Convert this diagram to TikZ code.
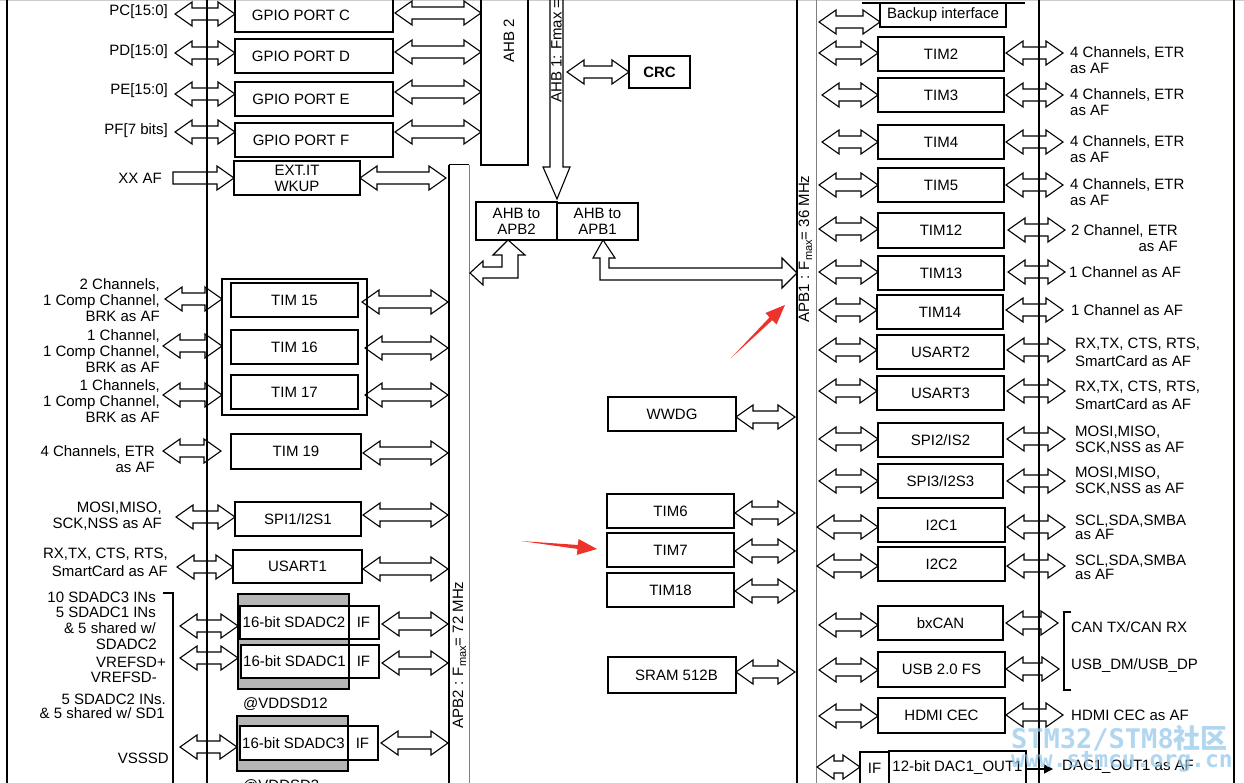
\documentclass[tikz,border=0pt]{standalone}
\usepackage{fontspec}
\setmainfont{Liberation Sans}
\newfontfamily\cjkfont{Noto Sans CJK SC}
\newfontfamily\wmfont{DejaVu Sans Mono}
\usetikzlibrary{arrows.meta,calc}
\definecolor{sdgray}{RGB}{182,182,182}
\definecolor{annred}{RGB}{238,50,44}
\definecolor{wmblue}{RGB}{150,200,235}
\newcommand{\arrH}{17pt}
\newcommand{\arrW}{12pt}
\newcommand{\arrS}{6pt}
% double hollow arrow: x from #1 and #2, y (pixels) = #3
\newcommand{\dar}[3]{\draw[barrow] let \p1=#1, \p2=#2, \p3=(0,#3) in
 (\x1,\y3) -- (\x1+\arrH,\y3+\arrW) -- (\x1+\arrH,\y3+\arrS) -- (\x2-\arrH,\y3+\arrS) -- (\x2-\arrH,\y3+\arrW) -- (\x2,\y3)
 -- (\x2-\arrH,\y3-\arrW) -- (\x2-\arrH,\y3-\arrS) -- (\x1+\arrH,\y3-\arrS) -- (\x1+\arrH,\y3-\arrW) -- cycle;}
% single hollow arrow
\newcommand{\sar}[3]{\draw[barrow] let \p1=#1, \p2=#2, \p3=(0,#3) in
 (\x1,\y3+\arrS) -- (\x2-\arrH,\y3+\arrS) -- (\x2-\arrH,\y3+\arrW) -- (\x2,\y3)
 -- (\x2-\arrH,\y3-\arrW) -- (\x2-\arrH,\y3-\arrS) -- (\x1,\y3-\arrS) -- cycle;}
% box from corners
\newcommand{\bx}[7][]{\node[box,minimum width={#5-#3},minimum height={#6-#4},#1] (#2) at ({(#3+#5)/2},{(#4+#6)/2}) {#7};}
\newcommand{\padR}[1]{\rule{#1}{0pt}}
\begin{document}
\begin{tikzpicture}[x=1pt,y=-1pt,font=\fontsize{15}{16}\selectfont,
  box/.style={draw,line width=1.6pt,inner sep=0pt,outer sep=0pt},
  barrow/.style={draw,line width=1.1pt,line join=miter},
  lbl/.style={inner sep=0pt,align=right,anchor=east},
  rlbl/.style={inner sep=0pt,align=left,anchor=west},
  busline/.style={line width=1.8pt},
  sdbox/.style={fill=sdgray,line width=2.4pt},
  sdwhite/.style={fill=white,line width=1.5pt}]
\useasboundingbox (0,0) rectangle (1244,783);
\clip (0,0) rectangle (1244,783);

% ---------- bus coordinates ----------
\coordinate (lbus) at (207,0);
\coordinate (apb2L) at (448,165);
\coordinate (apb2R) at (469,165);
\coordinate (apb1L) at (795,0);
\coordinate (apb1R) at (819,0);
\coordinate (afR) at (1063,0);
\coordinate (ahb1R) at (567,0);
\coordinate (sdL) at (180,0);

% ---------- frame and buses ----------
\draw[gray!40,line width=1pt] (0,0.5) -- (1244,0.5);
\draw[busline] (7,-5) -- (7,790);
\draw[busline] (1234,-5) -- (1234,790);
\draw[busline] (207,-5) -- (207,790);
\draw[busline] (449,165) -- (449,790);
\draw[gray,line width=1pt] (469,165) -- (469,790);
\draw[line width=1pt] (449,165) -- (469,165);
\draw[busline] (797,-5) -- (797,790);
\draw[gray,line width=1pt] (816,-5) -- (816,790);
\draw[busline] (1039,-5) -- (1039,790);

% ---------- GPIO ----------
\bx{gpC}{235}{-2}{393}{32}{GPIO PORT C\padR{26pt}}
\bx{gpD}{235}{39}{393}{73}{GPIO PORT D\padR{26pt}}
\bx{gpE}{235}{82}{393}{116}{GPIO PORT E\padR{26pt}}
\bx{gpF}{235}{123}{393}{157}{GPIO PORT F\padR{26pt}}
\bx[align=center]{ext}{234}{161}{360}{195}{EXT.IT\\WKUP}
\node[lbl] (lC) at (168,12) {PC[15:0]};
\node[lbl] (lD) at (168,52) {PD[15:0]};
\node[lbl] (lE) at (168,91) {PE[15:0]};
\node[lbl] (lF) at (168,131) {PF[7 bits]};
\node[lbl] (lX) at (162,178) {XX AF};
\dar{([xshift=7pt]lC.east)}{(gpC.west)}{14}
\dar{([xshift=7pt]lD.east)}{(gpD.west)}{53}
\dar{([xshift=7pt]lE.east)}{(gpE.west)}{94}
\dar{([xshift=7pt]lF.east)}{(gpF.west)}{132}
\sar{([xshift=11pt]lX.east)}{(ext.west)}{178}

% ---------- AHB2 ----------
\bx{ahb2}{481}{-5}{528}{165}{}
\node[rotate=90,inner sep=0pt] (ahb2t) at (509,41) {AHB 2};
\dar{([xshift=2pt]gpC.east)}{(ahb2.west)}{13}
\dar{([xshift=2pt]gpD.east)}{(ahb2.west)}{52}
\dar{([xshift=2pt]gpE.east)}{(ahb2.west)}{92}
\dar{([xshift=2pt]gpF.east)}{(ahb2.west)}{132}
\dar{(ext.east)}{([xshift=-2pt]apb2L)}{178}

% ---------- AHB1, CRC, bridges ----------
\bx[align=center]{a2p2}{476}{202}{557}{240}{AHB to\\APB2}
\bx[align=center]{a2p1}{557}{203}{638}{240}{AHB to\\APB1}
\draw[barrow] (550,-8) -- (550,167) -- (543,167) -- ([yshift=3pt]a2p2.north east) -- (570,167) -- (563,167) -- (563,-8);
\node[rotate=90,anchor=west,inner sep=0pt] (ahb1t) at (556.5,103) {AHB 1: Fmax =};
\bx[font=\fontsize{15}{16}\selectfont\bfseries]{crc}{629}{56}{690}{88}{CRC}
\dar{(ahb1R)}{(crc.west)}{72}
\draw[barrow] ([xshift=-8.5pt]a2p2.south) -- ++(17,15) -- ++(-7,0) -- ++(0,23) -- ++(-35,0) -- ++(0,7)
  -- ++(-13,-12) -- ++(13,-12) -- ++(0,6) -- ++(19,0) -- ++(0,-12) -- ++(-9,0) -- cycle;
\draw[barrow] ([xshift=5.5pt]a2p1.south) -- ++(12,18) -- ++(-6,0) -- ++(0,10) -- ++(173,0) -- ++(0,-10)
  -- ++(15,15) -- ++(-15,15) -- ++(0,-8) -- ++(-182,0) -- ++(0,-22) -- ++(-7,0) -- cycle;

% ---------- APB2 peripherals ----------
\bx{timgrp}{222}{279}{367}{415}{}
\bx{t15}{231}{283}{358}{317}{TIM 15}
\bx{t16}{231}{330}{358}{364}{TIM 16}
\bx{t17}{231}{375}{358}{409}{TIM 17}
\bx{t19}{231}{434}{361}{469}{TIM 19}
\bx{spi1}{235}{502}{361}{536}{SPI1/I2S1}
\bx{usart1}{233}{550}{362}{583}{USART1}
\node[lbl] (l15) at (160,300) {2 Channels,\\1 Comp Channel,\\BRK as AF};
\node[lbl] (l16) at (160,351) {1 Channel,\\1 Comp Channel,\\BRK as AF};
\node[lbl] (l17) at (160,401) {1 Channels,\\1 Comp Channel,\\BRK as AF};
\node[lbl] (l19) at (155,459) {4 Channels, ETR\\as AF};
\node[lbl] (lspi1) at (162,516) {MOSI,MISO,\\SCK,NSS as AF};
\node[lbl,font=\fontsize{15}{18}\selectfont] (lus1) at (168,562) {RX,TX, CTS, RTS,\\SmartCard as AF};
\dar{([xshift=5pt]l15.east)}{(timgrp.west)}{299}
\dar{([xshift=3pt]l16.east)}{(timgrp.west)}{346}
\dar{([xshift=3pt]l17.east)}{(timgrp.west)}{395}
\dar{([xshift=8pt]l19.east)}{([xshift=-10pt]t19.west)}{451}
\dar{([xshift=14pt]lspi1.east)}{(spi1.west)}{517}
\dar{([xshift=9pt]lus1.east)}{(usart1.west)}{567}
\dar{([xshift=4pt]t15.east)}{(apb2L)}{302}
\dar{([xshift=7pt]t16.east)}{(apb2L)}{348}
\dar{([xshift=7pt]t17.east)}{(apb2L)}{395}
\dar{([xshift=2pt]t19.east)}{(apb2L)}{453}
\dar{([xshift=2pt]spi1.east)}{(apb2L)}{515}
\dar{([xshift=1pt]usart1.east)}{(apb2L)}{569}

% ---------- SDADC ----------
\bx[sdbox]{g12}{238}{594}{349}{689}{}
\bx[sdwhite]{sd2}{240}{606}{379}{639}{\makebox[108pt]{16-bit SDADC2}\makebox[31pt]{IF}}
\bx[sdwhite]{sd1}{241}{645}{379}{678}{\makebox[107pt]{16-bit SDADC1}\makebox[31pt]{IF}}
\draw[line width=2.4pt] (g12.north west) rectangle (g12.south east);
\node[anchor=west,inner sep=0pt] (vdd12) at (243,704) {@VDDSD12};
\bx[sdbox]{g3}{237}{716}{348}{771}{}
\bx[sdwhite]{sd3}{240}{726}{378}{760}{\makebox[107pt]{16-bit SDADC3}\makebox[31pt]{IF}}
\draw[line width=2.4pt] (g3.north west) rectangle (g3.south east);
\node[anchor=west,inner sep=0pt] (vdd3) at (243,786) {@VDDSD3};
\node[lbl] (s1) at (156,597) {10 SDADC3 INs};
\node[lbl] (s2) at (156,612) {5 SDADC1 INs};
\node[lbl] (s3) at (156,628) {\& 5 shared w/};
\node[lbl] (s4) at (157,644) {SDADC2};
\node[lbl] (s5) at (166,662) {VREFSD+};
\node[lbl] (s6) at (157,677) {VREFSD-};
\node[lbl] (s7) at (166,699) {5 SDADC2 INs.};
\node[lbl] (s8) at (165,713) {\& 5 shared w/ SD1};
\node[lbl] (s9) at (169,758) {VSSSD};
\draw[line width=1.5pt] (163,593) -- (173,593) -- (173,790);
\dar{(sdL)}{(g12.west)}{626}
\dar{(sdL)}{(g12.west)}{658}
\dar{(sdL)}{(g3.west)}{747}
\dar{([xshift=3pt]sd2.east)}{(apb2L)}{624}
\dar{([xshift=3pt]sd1.east)}{(apb2L)}{663}
\dar{([xshift=3pt]sd3.east)}{(apb2L)}{743}

% ---------- APB2 label ----------
\node[rotate=90,inner sep=0pt] (apb2t) at (459.5,655) {APB2 : F\raisebox{-3pt}{\fontsize{11}{11}\selectfont max}= 72 MHz};

% ---------- middle peripherals ----------
\bx{wwdg}{608}{397}{736}{431}{WWDG}
\bx{tim6}{607}{494}{734}{528}{TIM6}
\bx{tim7}{607}{533}{734}{567}{TIM7}
\bx{tim18}{607}{573}{734}{607}{TIM18}
\bx{sram}{608}{657}{736}{693}{\padR{9pt}SRAM 512B}
\dar{(wwdg.east)}{(apb1L)}{417}
\dar{([xshift=1pt]tim6.east)}{(apb1L)}{513}
\dar{([xshift=1pt]tim7.east)}{(apb1L)}{551}
\dar{([xshift=1pt]tim18.east)}{(apb1L)}{591}
\dar{(sram.east)}{(apb1L)}{672}
\node[rotate=90,inner sep=0pt] (apb1t) at (805.5,249) {APB1 : F\raisebox{-3pt}{\fontsize{11}{11}\selectfont max}= 36 MHz};

% ---------- APB1 peripherals ----------
\bx{bkp}{880}{3}{1006}{27}{Backup interface}
\draw[line width=1.6pt] (862,3) -- (1025,3);
\bx{tim2}{878}{37}{1004}{71}{TIM2}
\bx{tim3}{878}{78}{1004}{112}{TIM3}
\bx{tim4}{878}{125}{1004}{159}{TIM4}
\bx{tim5}{878}{168}{1004}{202}{TIM5}
\bx{tim12}{878}{213}{1004}{248}{TIM12}
\bx{tim13}{878}{256}{1004}{290}{TIM13}
\bx{tim14}{877}{295}{1003}{329}{TIM14}
\bx{us2}{877}{335}{1004}{369}{USART2}
\bx{us3}{877}{376}{1004}{410}{USART3}
\bx{spi2}{878}{423}{1003}{457}{SPI2/IS2}
\bx{spi3}{878}{464}{1003}{498}{SPI3/I2S3}
\bx{i2c1}{878}{508}{1005}{542}{I2C1}
\bx{i2c2}{878}{547}{1005}{581}{I2C2}
\bx{can}{878}{606}{1003}{640}{bxCAN}
\bx{usb}{878}{652}{1005}{687}{USB 2.0 FS}
\bx{hdmi}{878}{698}{1005}{733}{HDMI CEC}
\bx{dacif}{860}{752}{889}{784}{IF}
\bx{dac}{889}{751}{1026}{784}{12-bit DAC1\_OUT1}

\dar{(apb1R)}{(bkp.west)}{22}
\dar{(apb1R)}{(tim2.west)}{53}
\dar{([xshift=3pt]apb1R)}{(tim3.west)}{95}
\dar{([xshift=3pt]apb1R)}{(tim4.west)}{142}
\dar{(apb1R)}{(tim5.west)}{185}
\dar{(apb1R)}{(tim12.west)}{229}
\dar{(apb1R)}{(tim13.west)}{272}
\dar{(apb1R)}{(tim14.west)}{310}
\dar{(apb1R)}{(us2.west)}{350}
\dar{(apb1R)}{(us3.west)}{391}
\dar{(apb1R)}{(spi2.west)}{439}
\dar{(apb1R)}{(spi3.west)}{481}
\dar{([xshift=-2pt]apb1R)}{(i2c1.west)}{527}
\dar{([xshift=-2pt]apb1R)}{(i2c2.west)}{566}
\dar{(apb1R)}{(can.west)}{625}
\dar{(apb1R)}{(usb.west)}{670}
\dar{(apb1R)}{(hdmi.west)}{716}
\dar{([xshift=-2pt]apb1R)}{(dacif.west)}{767}

\dar{([xshift=2pt]tim2.east)}{(afR)}{53}
\dar{([xshift=2pt]tim3.east)}{(afR)}{95}
\dar{([xshift=2pt]tim4.east)}{(afR)}{142}
\dar{([xshift=2pt]tim5.east)}{(afR)}{185}
\dar{([xshift=4pt]tim12.east)}{([xshift=2pt]afR)}{230}
\dar{([xshift=4pt]tim13.east)}{([xshift=2pt]afR)}{272}
\dar{([xshift=3pt]tim14.east)}{(afR)}{310}
\dar{([xshift=3pt]us2.east)}{([xshift=2pt]afR)}{350}
\dar{([xshift=3pt]us3.east)}{([xshift=2pt]afR)}{391}
\dar{([xshift=4pt]spi2.east)}{([xshift=2pt]afR)}{439}
\dar{([xshift=4pt]spi3.east)}{([xshift=2pt]afR)}{481}
\dar{([xshift=2pt]i2c1.east)}{([xshift=2pt]afR)}{527}
\dar{([xshift=2pt]i2c2.east)}{([xshift=2pt]afR)}{566}
\dar{([xshift=3pt]can.east)}{([xshift=-5pt]afR)}{623}
\dar{([xshift=1pt]usb.east)}{([xshift=-4pt]afR)}{669}
\dar{([xshift=1pt]hdmi.east)}{(afR)}{715}
\draw[line width=1.2pt,-{Triangle[length=9pt,width=9pt]}] ([yshift=-1.5pt]dac.east) -- ++(27,0) coordinate (dacEnd);

\node[rlbl] (r2) at (1070,60) {4 Channels, ETR\\as AF};
\node[rlbl] (r3) at (1070,102) {4 Channels, ETR\\as AF};
\node[rlbl] (r4) at (1070,149) {4 Channels, ETR\\as AF};
\node[rlbl] (r5) at (1070,192) {4 Channels, ETR\\as AF};
\node[lbl] (r12) at (1178,238) {2 Channel, ETR\\as AF};
\node[rlbl] (r13) at (1069,272) {1 Channel as AF};
\node[rlbl] (r14) at (1071,310) {1 Channel as AF};
\node[rlbl,font=\fontsize{15}{18}\selectfont] (ru2) at (1075,352) {RX,TX, CTS, RTS,\\SmartCard as AF};
\node[rlbl,font=\fontsize{15}{18}\selectfont] (ru3) at (1075,395) {RX,TX, CTS, RTS,\\SmartCard as AF};
\node[rlbl] (rs2) at (1075,440) {MOSI,MISO,\\SCK,NSS as AF};
\node[rlbl] (rs3) at (1075,481) {MOSI,MISO,\\SCK,NSS as AF};
\node[rlbl,font=\fontsize{15}{14}\selectfont] (ri1) at (1075,527) {SCL,SDA,SMBA\\as AF};
\node[rlbl,font=\fontsize{15}{14}\selectfont] (ri2) at (1075,567) {SCL,SDA,SMBA\\as AF};
\node[rlbl] (rcan) at (1071,627) {CAN TX/CAN RX};
\node[rlbl] (rusb) at (1071,666) {USB\_DM/USB\_DP};
\node[rlbl] (rhdmi) at (1071,715) {HDMI CEC as AF};
\node[rlbl] (rdac) at (1062,767) {DAC1\_OUT1 as AF};
\draw[line width=1.5pt] (1071,612) -- (1064,612) -- (1064,690) -- (1071,690);

% ---------- red annotation arrows ----------
\coordinate (ra1s) at (731,358);
\coordinate (ra2s) at (521,541);
\fill[annred,shift={(ra1s)},rotate=44.5] (0,0) -- (56,-2) -- (56,-8) -- (75.7,0) -- (56,8) -- (56,2) -- cycle;
\fill[annred,shift={(ra2s)},rotate=-6] (0,0) -- (57,-2) -- (57,-8) -- (76.4,0) -- (57,8) -- (57,2) -- cycle;

% ---------- watermark ----------
\node[anchor=west,inner sep=0pt,text=wmblue,opacity=0.75,font=\fontsize{27}{27}\selectfont\wmfont\bfseries] (wm1) at (1011,738) {STM32/STM8{\cjkfont\bfseries 社区}};
\node[anchor=west,inner sep=0pt,text=wmblue,opacity=0.75,font=\fontsize{23}{23}\selectfont\wmfont\bfseries] (wm2) at (1011,762) {www.stmcu.org.cn};
\end{tikzpicture}
\end{document}
